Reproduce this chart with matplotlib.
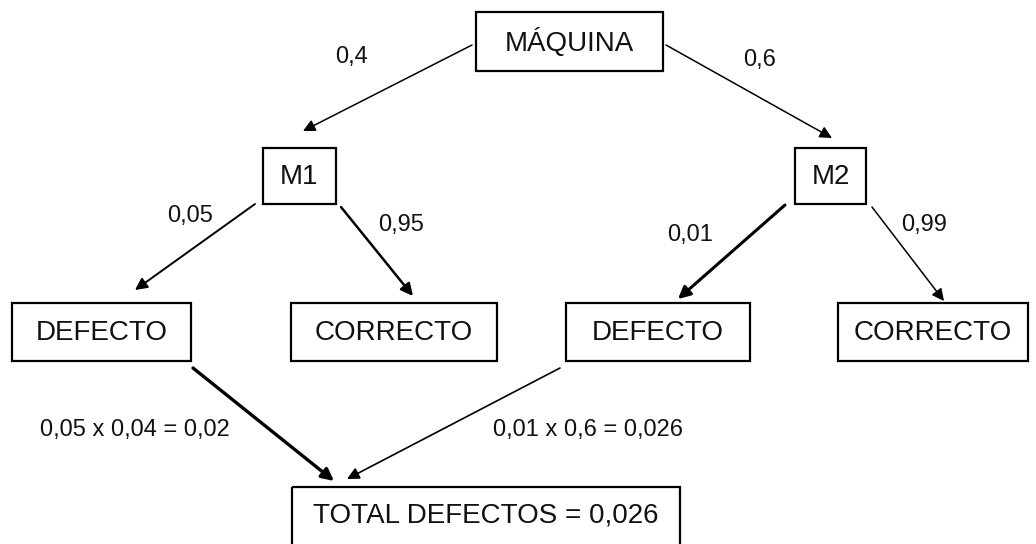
import matplotlib
matplotlib.use("Agg")
import matplotlib.pyplot as plt
from matplotlib.patches import Rectangle, FancyArrowPatch

plt.rcParams['font.family'] = ['Liberation Sans', 'DejaVu Sans']

# Data
node_labels = ["MÁQUINA", "M1", "M2", "DEFECTO", "CORRECTO", "DEFECTO", "CORRECTO",
               "TOTAL DEFECTOS = 0,026"]
branch_probs = ["0,4", "0,6", "0,05", "0,95", "0,01", "0,99"]
product_labels = ["0,05 x 0,04 = 0,02", "0,01 x 0,6 = 0,026"]

# Layout (pixel coordinates: x0, y0, x1, y1)
boxes = [
    (476, 12, 663, 71),
    (263, 148, 336, 204),
    (795, 148, 866, 204),
    (12, 303, 191, 361),
    (291, 303, 497, 361),
    (566, 303, 750, 361),
    (838, 303, 1028, 361),
    (292, 487, 680, 548),
]
box_fs = 20

arrows = [  # start, end, linewidth
    ((472, 45), (303, 131), 1.1),
    ((666, 45), (832, 138), 1.1),
    ((255, 204), (135, 290), 1.4),
    ((341, 207), (413, 296), 1.8),
    ((785, 205), (678, 299), 2.2),
    ((872, 207), (944, 301), 1.1),
    ((193, 368), (334, 481), 2.4),
    ((560, 368), (347, 479), 1.2),
]
prob_pos = [(351, 57), (760, 60), (190, 216), (401, 225), (690, 235), (924, 225)]
prod_pos = [(135, 430), (588, 430)]

W, H = 1036, 544
fig = plt.figure(figsize=(W / 100, H / 100), dpi=100)
ax = fig.add_axes([0, 0, 1, 1])
ax.set_xlim(0, W)
ax.set_ylim(H, 0)
ax.axis('off')

for (x0, y0, x1, y1), lab in zip(boxes, node_labels):
    ax.add_patch(Rectangle((x0, y0), x1 - x0, y1 - y0, fill=False,
                           edgecolor='black', linewidth=1.6))
    ax.text((x0 + x1) / 2, (y0 + y1) / 2 + 1 if y1 < H else 516, lab,
            ha='center', va='center', fontsize=box_fs, color='#111111')

for (s, e, lw) in arrows:
    ax.add_patch(FancyArrowPatch(s, e, arrowstyle='-|>', mutation_scale=18,
                                 linewidth=lw, color='black', shrinkA=0, shrinkB=0))

for (x, y), t in zip(prob_pos, branch_probs):
    ax.text(x, y, t, ha='center', va='center', fontsize=17, color='#111111')
for (x, y), t in zip(prod_pos, product_labels):
    ax.text(x, y, t, ha='center', va='center', fontsize=17, color='#111111')

fig.savefig("out.png", dpi=100, facecolor='white')
